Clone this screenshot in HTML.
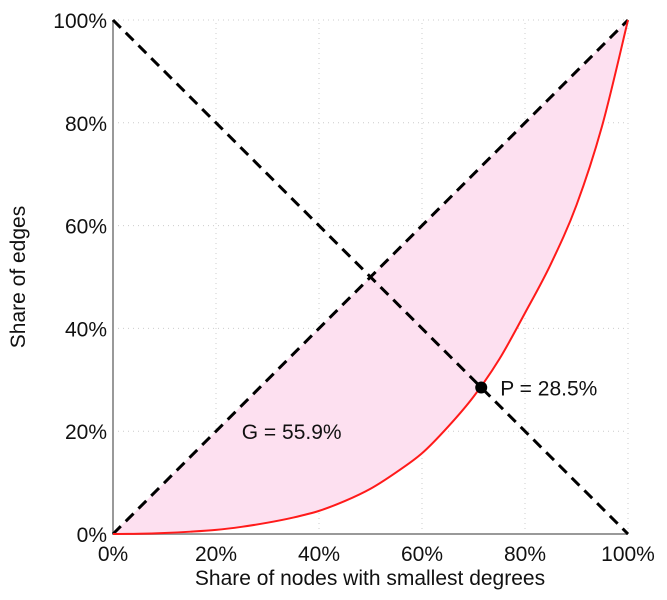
<!DOCTYPE html>
<html><head><meta charset="utf-8"><style>
body{margin:0;background:#fff}
svg{font-family:"Liberation Sans",sans-serif;display:block}
</style></head><body>
<svg width="667" height="600">
<g id="grid"></g>
<path id="area" fill="#fde0f0" stroke="none"/>
<g id="axes"></g>
<line id="diag" stroke="#000" stroke-width="3" stroke-dasharray="11,7"/>
<line id="anti" stroke="#000" stroke-width="3" stroke-dasharray="11,7"/>
<path id="curve" fill="none" stroke="#ff1a1a" stroke-width="2"/>
<circle id="pt" r="6" fill="#000"/>
<text id="plab" font-size="21" fill="#111">P = 28.5%</text>
<text id="glab" font-size="21" fill="#111">G = 55.9%</text>
<text x="370" y="585" text-anchor="middle" font-size="21" fill="#111">Share of nodes with smallest degrees</text>
<text transform="translate(25,277) rotate(-90)" text-anchor="middle" font-size="21" fill="#111">Share of edges</text>
</svg>
<script>
const xs=[0,5,10,15,20,25,30,35,40,45,50,55,60,65,70,75,80,85,90,95,100];
const ys=[0,0.05,0.2,0.45,0.8,1.4,2.2,3.2,4.5,6.4,8.8,12,15.7,20.8,26.7,34,43,52.5,64,79.5,100];
const ticks=[0,20,40,60,80,100];
const pointX=71.5, pointY=28.5;
const X=v=>113+v*5.15, Y=v=>534-v*5.14;
const ns="http://www.w3.org/2000/svg";
const grid=document.getElementById('grid'), axes=document.getElementById('axes');
ticks.forEach(t=>{
 if(t>0){
  let l=document.createElementNS(ns,'line');
  
  
  l.setAttribute('x1',X(t));l.setAttribute('x2',X(t));l.setAttribute('y1',Y(0));l.setAttribute('y2',Y(100));
  l.setAttribute('stroke','#ccc');l.setAttribute('stroke-dasharray','1,4');grid.appendChild(l);
  let m=document.createElementNS(ns,'line');
  
  
  m.setAttribute('y1',Y(t));m.setAttribute('y2',Y(t));m.setAttribute('x1',X(0));m.setAttribute('x2',X(100));
  m.setAttribute('stroke','#ccc');m.setAttribute('stroke-dasharray','1,4');grid.appendChild(m);
 }
 let tx=document.createElementNS(ns,'text');
 
 
 tx.setAttribute('x',X(t));tx.setAttribute('y',561);tx.setAttribute('text-anchor','middle');tx.setAttribute('font-size','21');tx.setAttribute('fill','#111');
 tx.textContent=t+'%';axes.appendChild(tx);
 let ty=document.createElementNS(ns,'text');
 
 
 ty.setAttribute('x',107);ty.setAttribute('y',Y(t)+8);ty.setAttribute('text-anchor','end');ty.setAttribute('font-size','21');ty.setAttribute('fill','#111');
 ty.textContent=t+'%';axes.appendChild(ty);
});
const ax=document.createElementNS(ns,'path');


ax.setAttribute('d',`M${X(0)},${Y(100)}V${Y(0)}H${X(100)}`);ax.setAttribute('stroke','#999');ax.setAttribute('stroke-width','2');ax.setAttribute('fill','none');
axes.appendChild(ax);
const P=xs.map((x,i)=>[X(x),Y(ys[i])]);
let dstr='M'+P[0][0]+','+P[0][1];
for(let i=0;i<P.length-1;i++){
 const p0=P[Math.max(0,i-1)],p1=P[i],p2=P[i+1],p3=P[Math.min(P.length-1,i+2)];
 const c1=[p1[0]+(p2[0]-p0[0])/6,p1[1]+(p2[1]-p0[1])/6];
 const c2=[p2[0]-(p3[0]-p1[0])/6,p2[1]-(p3[1]-p1[1])/6];
 dstr+=`C${c1[0]},${c1[1]} ${c2[0]},${c2[1]} ${p2[0]},${p2[1]}`;
}
document.getElementById('curve').setAttribute('d',dstr);
document.getElementById('area').setAttribute('d',dstr+'Z');
const d=document.getElementById('diag');d.setAttribute('x1',X(0));d.setAttribute('y1',Y(0));d.setAttribute('x2',X(100));d.setAttribute('y2',Y(100));
const a=document.getElementById('anti');a.setAttribute('x1',X(0));a.setAttribute('y1',Y(100));a.setAttribute('x2',X(100));a.setAttribute('y2',Y(0));
const p=document.getElementById('pt');p.setAttribute('cx',X(pointX));p.setAttribute('cy',Y(pointY));
const pl=document.getElementById('plab');pl.setAttribute('x',X(pointX)+19);pl.setAttribute('y',Y(pointY)+8);
const gl=document.getElementById('glab');gl.setAttribute('x',X(25));gl.setAttribute('y',Y(18.5));
</script>
</body></html>
